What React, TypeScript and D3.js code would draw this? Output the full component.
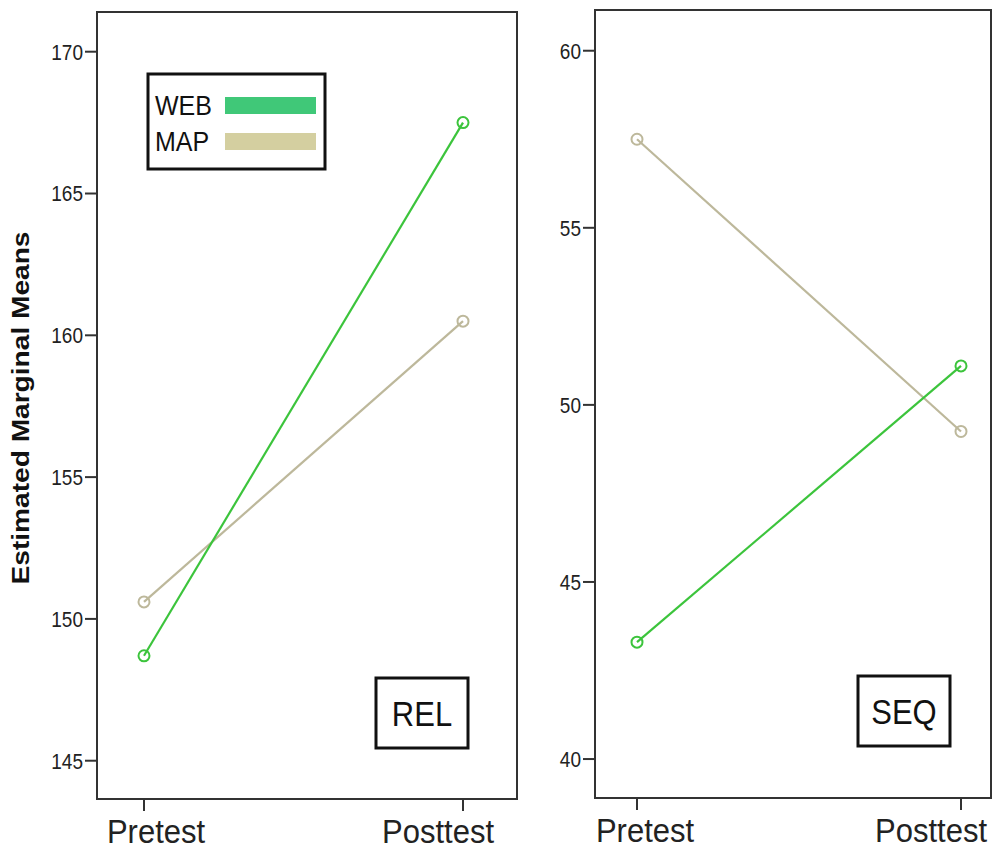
import React from "react";
import * as d3 from "d3";

const times = ["Pretest", "Posttest"];
const relWeb = [148.7, 167.5];
const relMap = [150.6, 160.5];
const seqWeb = [43.3, 51.1];
const seqMap = [57.5, 49.25];
const relTicks = [145, 150, 155, 160, 165, 170];
const seqTicks = [40, 45, 50, 55, 60];
const legendItems = ["WEB", "MAP"];

const FONT = "Arial, 'Liberation Sans', sans-serif";
const WEB_LINE = "#3cc43c";
const MAP_LINE = "#bdb89b";
const WEB_SWATCH = "#40c878";
const MAP_SWATCH = "#d4cfa0";
const FRAME = "#333";

type PanelProps = {
  x0: number; x1: number; y0: number; y1: number;
  domain: [number, number];
  ticks: number[];
  xr: [number, number];
  labelShift: [number, number];
  web: number[]; map: number[];
  label: string;
  box: { x: number; y: number; w: number; h: number };
};

function Panel(p: PanelProps) {
  const y = d3.scaleLinear().domain(p.domain).range([p.y1, p.y0]);
  const x = d3.scalePoint<string>().domain(times).range(p.xr);
  const line = d3.line<number>().x((_, i) => x(times[i])!).y((d) => y(d));
  const series = [
    { vals: p.map, color: MAP_LINE },
    { vals: p.web, color: WEB_LINE },
  ];
  return (
    <g>
      {p.ticks.map((t) => (
        <g key={t}>
          <line x1={p.x0 - 12} x2={p.x0} y1={y(t)} y2={y(t)} stroke={FRAME} strokeWidth={2} />
          <text
            transform={`translate(${p.x0 - 14},${y(t)}) scale(1,1.15)`}
            dy="0.36em"
            textAnchor="end"
            fontSize={19}
            fontFamily={FONT}
            fill="#222"
          >
            {t}
          </text>
        </g>
      ))}
      {times.map((t, i) => (
        <g key={t}>
          <line x1={x(t)} x2={x(t)} y1={p.y1} y2={p.y1 + 12} stroke={FRAME} strokeWidth={2} />
          <text
            transform={`translate(${x(t)! + p.labelShift[i]},${p.y1 + 44}) scale(1,1.1)`}
            textAnchor="middle"
            fontSize={31}
            fontFamily={FONT}
            fill="#222"
          >
            {t}
          </text>
        </g>
      ))}
      <rect x={p.x0} y={p.y0} width={p.x1 - p.x0} height={p.y1 - p.y0} fill="none" stroke={FRAME} strokeWidth={2} />
      {series.map((s, si) => (
        <g key={si}>
          <path d={line(s.vals) || ""} fill="none" stroke={s.color} strokeWidth={2.2} />
          {s.vals.map((v, i) => (
            <circle key={i} cx={x(times[i])} cy={y(v)} r={5.5} fill="none" stroke={s.color} strokeWidth={2} />
          ))}
        </g>
      ))}
      <rect x={p.box.x} y={p.box.y} width={p.box.w} height={p.box.h} fill="#fff" stroke="#111" strokeWidth={3} />
      <text
        transform={`translate(${p.box.x + p.box.w / 2},${p.box.y + p.box.h / 2 + 13}) scale(1,1.12)`}
        textAnchor="middle"
        fontSize={31}
        fontFamily={FONT}
        fill="#111"
      >
        {p.label}
      </text>
    </g>
  );
}

export default function App() {
  return (
    <svg width={994} height={850} style={{ position: "absolute", left: 0, top: 0, background: "#fff" }}>
      <rect width={994} height={850} fill="#fff" />
      <Panel
        x0={97} x1={517} y0={12} y1={799}
        domain={[143.65, 171.4]}
        ticks={relTicks}
        xr={[144, 463]}
        labelShift={[12, -25]}
        web={relWeb} map={relMap}
        label="REL"
        box={{ x: 376, y: 678, w: 92, h: 70 }}
      />
      <Panel
        x0={595} x1={991} y0={10} y1={798}
        domain={[38.9, 61.15]}
        ticks={seqTicks}
        xr={[637, 961]}
        labelShift={[8, -30]}
        web={seqWeb} map={seqMap}
        label="SEQ"
        box={{ x: 858, y: 676, w: 92, h: 70 }}
      />
      <g>
        <rect x={148} y={74} width={177} height={95} fill="#fff" stroke="#111" strokeWidth={3} />
        {legendItems.map((name, i) => (
          <g key={name}>
            <text
              transform={`translate(155,${115 + i * 36}) scale(1,1.1)`}
              fontSize={25}
              fontFamily={FONT}
              fill="#111"
            >
              {name}
            </text>
            <rect x={225} y={97 + i * 36} width={91} height={17} fill={i === 0 ? WEB_SWATCH : MAP_SWATCH} />
          </g>
        ))}
      </g>
      <text
        transform="translate(29,408) rotate(-90)"
        textAnchor="middle"
        fontSize={24}
        fontWeight="bold"
        fontFamily={FONT}
        fill="#111"
        textLength={353}
        lengthAdjust="spacingAndGlyphs"
      >
        Estimated Marginal Means
      </text>
    </svg>
  );
}
